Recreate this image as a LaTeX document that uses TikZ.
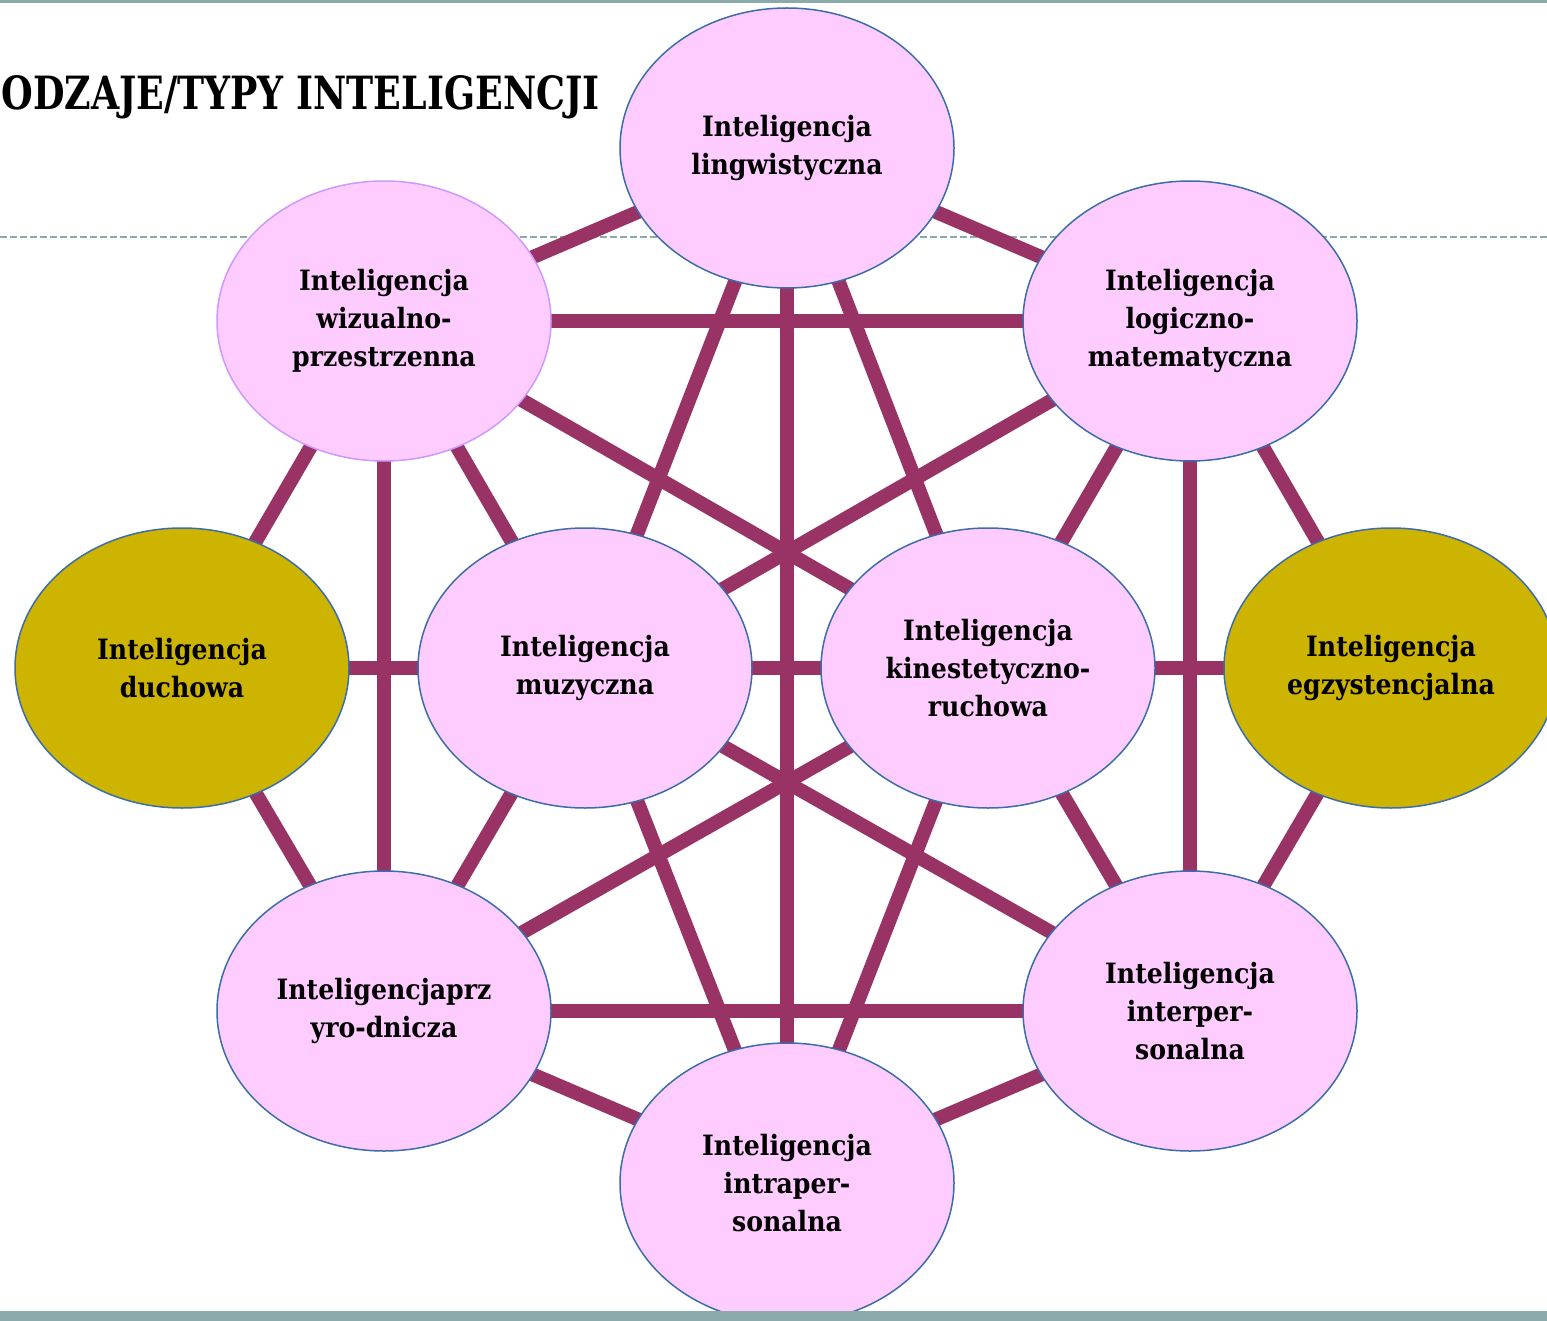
\documentclass[tikz,border=0pt]{standalone}
\usepackage{graphicx}
\usepackage{fontspec}
\setmainfont{DejaVu Serif}[FakeStretch=0.9]
\usetikzlibrary{shapes.geometric,backgrounds}
\definecolor{pinkfill}{HTML}{FFCCFF}
\definecolor{olivefill}{HTML}{CCB400}
\definecolor{edgeblue}{HTML}{3C6DAA}
\definecolor{edgeviolet}{HTML}{CC99FF}
\definecolor{linkcol}{HTML}{993366}
\definecolor{framecol}{HTML}{8BABAA}
\begin{document}
\begin{tikzpicture}[x=0.5pt,y=-0.5pt,
  bubble/.style={ellipse, draw=edgeblue, line width=0.75pt, fill=pinkfill,
    minimum width=167pt, minimum height=140pt, inner sep=0pt, align=center,
    font=\fontsize{14pt}{19pt}\selectfont\bfseries},
  gold/.style={bubble, fill=olivefill},
  link/.style={draw=linkcol, line width=7pt},
  rule/.style={draw=framecol, line width=1pt, dash pattern=on 3.5pt off 1.5pt}]
\useasboundingbox (0,0) rectangle (1547,1321);
\clip (0,0) rectangle (1547,1321);

% title
\node[anchor=base west, inner sep=0pt] (title) at (1,110)
  {\resizebox{299pt}{17pt}{\bfseries ODZAJE/TYPY INTELIGENCJI}};

% nodes
\node[bubble] (ling) at (787,148) {Inteligencja\\lingwistyczna};
\node[bubble, draw=edgeviolet] (wiz) at (384,321) {Inteligencja\\wizualno-\\przestrzenna};
\node[bubble] (log) at (1190,321) {Inteligencja\\logiczno-\\matematyczna};
\node[gold] (duch) at (182,668) {Inteligencja\\duchowa};
\node[bubble] (muz) at (585,668) {Inteligencja\\muzyczna};
\node[bubble] (kin) at (988,668) {Inteligencja\\kinestetyczno-\\ruchowa};
\node[gold] (egz) at (1391,668) {Inteligencja\\egzystencjalna};
\node[bubble] (przyr) at (384,1011) {Inteligencjaprz\\yro-dnicza};
\node[bubble] (inter) at (1190,1011) {Inteligencja\\interper-\\sonalna};
\node[bubble] (intra) at (787,1183) {Inteligencja\\intraper-\\sonalna};

\begin{pgfonlayer}{background}
  \fill[white] (0,0) rectangle (1547,1321);
  \draw[rule] (0,237) -- (1547,237);
  \foreach \a/\b in {ling/wiz, ling/log, wiz/log, ling/muz, ling/kin, ling/intra,
      wiz/kin, log/muz, wiz/duch, wiz/muz, wiz/przyr, log/kin, log/egz, log/inter,
      duch/muz, muz/kin, kin/egz, duch/przyr, muz/przyr, muz/inter, muz/intra,
      kin/przyr, kin/intra, kin/inter, egz/inter, przyr/inter, przyr/intra, inter/intra}
    \draw[link] (\a.center) -- (\b.center);
\end{pgfonlayer}

% frame lines
\draw[framecol, line width=1.5pt] (0,1.5) -- (1547,1.5);
\fill[framecol] (0,1311) rectangle (1547,1321);
\end{tikzpicture}
\end{document}
